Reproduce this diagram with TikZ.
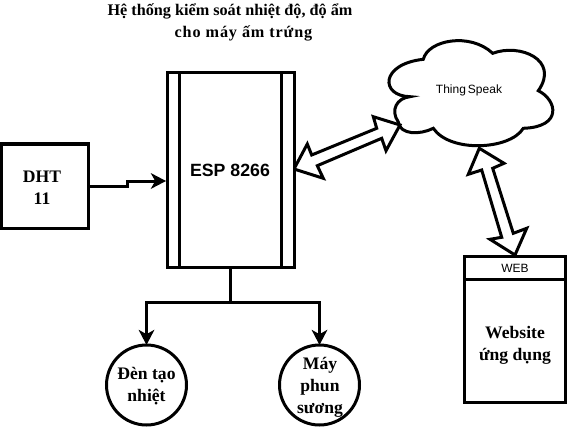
\documentclass[tikz,border=0pt]{standalone}
\usepackage{fontspec}
\setmainfont{Liberation Serif}
\setsansfont{Liberation Sans}
\usetikzlibrary{arrows.meta,calc}
\tikzset{
  x=0.75pt,y=-0.75pt,
  every node/.style={outer sep=0pt,inner sep=0pt},
  shapeline/.style={draw=black,line width=2.25pt,miter limit=10},
  wire/.style={draw=black,line width=2.25pt},
  tipwire/.style={wire,-{Stealth[length=11.5pt,width=12pt,inset=3.4pt,line width=0pt]}},
  blockarrow/.style={draw=black,fill=white,line width=2.25pt,line join=miter,miter limit=10},
  serifb/.style={font=\rmfamily\bfseries\fontsize{13.2}{16.5}\selectfont,align=center},
  titletext/.style={font=\rmfamily\bfseries\fontsize{12.15}{17}\selectfont,align=center},
  boxn/.style={shapeline,rectangle,fill=white},
  disc/.style={shapeline,circle,fill=white,minimum size=60pt},
}
\begin{document}
\begin{tikzpicture}
\useasboundingbox[fill=white] (0,0) rectangle (568,428);
% title
\node[titletext] (title) at (230,11) {Hệ thống kiểm soát nhiệt độ, độ ẩm};
\node[titletext] (title2) at (243.5,33.5) {\addfontfeature{LetterSpace=5.4}cho máy ấm trứng};
% cloud
\draw[shapeline,fill=white]
 (423.3,59.3) .. controls (428,40) and (470,32) .. (492.7,53.3)
 .. controls (520,43) and (560,60) .. (538.3,90.7)
 .. controls (557,100) and (563,127) .. (523.3,128.3)
 .. controls (510,150) and (450,153) .. (433.3,128.3)
 .. controls (420,135) and (400,135) .. (398.3,122)
 .. controls (390,110) and (397,98) .. (410,96.7)
 .. controls (380,96) and (380,64) .. (423.3,59.3) -- cycle;
\node[font=\sffamily\fontsize{9}{11}\selectfont] (cloudlabel) at (469,90.5) {Thing\,Speak};
% block arrows
\draw[blockarrow] (294,169) -- (307.3,144) -- (311.7,155) -- (376.7,128.3) -- (373.3,116.7) -- (400,125) -- (386,150.7) -- (381.7,138.3) -- (317.3,165.7) -- (323.3,178.3) -- cycle;
\draw[blockarrow] (479.3,148.3) -- (504,163.3) -- (492.7,168.3) -- (513.3,233.3) -- (526.7,228.3) -- (515,255) -- (490,239.3) -- (501.7,237.3) -- (481.7,170) -- (468.3,174.3) -- cycle;
% ESP
\node[boxn,minimum width=95.25pt,minimum height=145.5pt] (esp) at (230.5,170) {};
\draw[line width=2.25pt] (179,73) -- (179,267) (281.5,73) -- (281.5,267);
\node[font=\sffamily\bfseries\fontsize{13.3}{15}\selectfont] (esplabel) at (230,170) {ESP 8266};
% DHT
\node[boxn,minimum width=65.25pt,minimum height=63pt] (dht) at (44.5,186) {};
\node[serifb] (dhtlabel) at (42,187.5) {DHT\\11};
\coordinate (espin) at ($(esp.west)+(-1,11)$);
\draw[tipwire] (dht.east) -- (127,186) -- (127,181) -- (espin);
% outputs
\node[disc] (den) at (146.5,385) {};
\node[disc] (may) at (319.5,385) {};
\node[serifb] (denlabel) at (146.5,386.5) {Đèn tạo\\nhiệt};
\node[serifb] (maylabel) at (320,387) {Máy\\phun\\sương};
\coordinate (split) at (230.5,302);
\draw[wire] (esp.south) -- (split);
\draw[tipwire] (split) -| (den.north);
\draw[tipwire] (split) -| (may.north);
% Web
\node[boxn,minimum width=75.75pt,minimum height=110pt] (web) at (515,329.5) {};
\draw[line width=2.25pt] (464,279) -- (566,279);
\node[font=\sffamily\fontsize{9}{11}\selectfont] (weblabel) at (515,268.5) {WEB};
\node[serifb] (website) at (515,345.5) {Website\\ứng dụng};
\end{tikzpicture}
\end{document}
